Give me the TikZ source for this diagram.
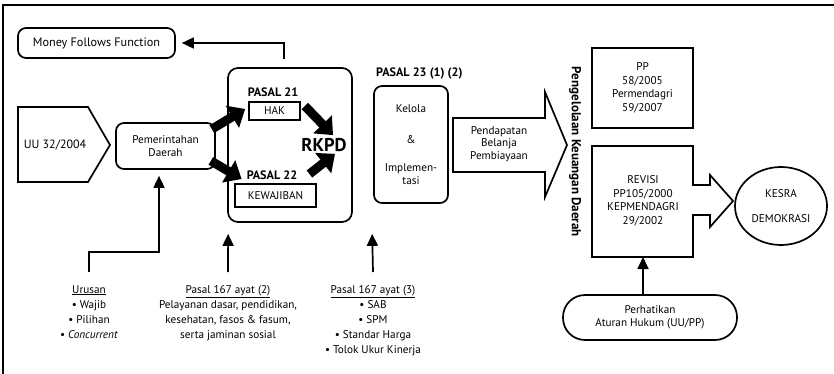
\documentclass[tikz,border=0pt]{standalone}
\usepackage{fontspec}
\setmainfont{PT Sans}
\usetikzlibrary{arrows.meta,calc,shapes.geometric}
\begin{document}
\begin{tikzpicture}[x=1pt,y=-1pt,
  lw/.style={line width=1.7pt},
  box/.style={draw,lw,align=center,inner sep=0pt,font=\fontsize{11.2}{13.5}\selectfont},
  rbox/.style={box,rounded corners=8pt},
  shp/.style={draw,lw,line join=miter},
  conn/.style={lw,-{Triangle[length=12pt,width=11pt]}},
  fat/.style={line width=9pt,-{Triangle[length=15pt,width=25pt]}},
  lbl/.style={align=center,inner sep=0pt,font=\fontsize{11.2}{13.5}\selectfont},
  blbl/.style={align=center,inner sep=0pt,font=\bfseries\fontsize{12.2}{14}\selectfont},
  btxt/.style={align=center,inner sep=0pt,font=\fontsize{11.2}{15}\selectfont}]
\useasboundingbox (0,0) rectangle (834,374);
% frame
\draw[lw] (3,374) -- (3,5) -- (834,5);

% left part
\node[rbox, minimum width=157, minimum height=30, font=\fontsize{12.2}{14}\selectfont] (money) at (96.5,43) {Money Follows Function};
\draw[shp] (18,107) -- (88,107) -- (110,145) -- (88,182) -- (18,182) -- cycle;
\node[lbl, font=\fontsize{12}{14}\selectfont] (uu) at (55,145) {UU 32/2004};
\node[rbox, minimum width=99, minimum height=46] (pem) at (165.5,146) {Pemerintahan\\Daerah};

% pasal box
\node[rbox, rounded corners=10pt, minimum width=124, minimum height=154] (pasal) at (290,145) {};
\node[blbl] (p21) at (273,92) {PASAL 21};
\node[box, minimum width=51, minimum height=18] (hak) at (274.5,111) {HAK};
\node[blbl] (p22) at (272,175) {PASAL 22};
\node[box, minimum width=81, minimum height=23] (kew) at (275.5,195.5) {KEWAJIBAN};
\node[inner sep=0pt, font=\bfseries\fontsize{18.5}{20}\selectfont] (rkpd) at (324,145) {RKPD};

\draw[fat] ($(pem.north east)+(-4,7)$) -- ($(hak.west)+(-3,-2)$);
\draw[fat] ($(pem.south east)+(-5,-9)$) -- ($(p22.west)+(-5,4)$);
\draw[fat] ($(hak.east)+(4,-5)$) -- ($(rkpd.north)+(9,-3)$);
\draw[fat] ($(p22.east)+(12,-1)$) -- ($(rkpd.south)+(11,2)$);

\draw[conn, shorten >=6pt] ($(pasal.north)+(-6,-8)$) |- (money.east);

% pasal 23
\node[blbl, anchor=west] (p23) at (376,73) {PASAL 23 (1) (2)};
\node[rbox, minimum width=74, minimum height=117] (kel) at (411,144.5) {Kelola\\[18pt]\&\\[14pt]Implemen-\\tasi};

% big arrow
\draw[shp] (453,118) -- (545,118) -- (545,92) -- (567,145) -- (545,197) -- (545,172) -- (453,172) -- cycle;
\node[lbl, font=\fontsize{11.2}{12.5}\selectfont] (pbp) at (499,144) {Pendapatan\\Belanja\\Pembiayaan};

% vertical title
\node[rotate=-90, inner sep=0pt, font=\bfseries\fontsize{13}{15}\selectfont] (pkd) at (575,152) {Pengelolaan Keuangan Daerah};

% right boxes
\node[box, minimum width=101, minimum height=80] (pp) at (642.5,88) {PP\\58/2005\\Permendagri\\59/2007};
\draw[shp] (592,146) -- (693,146) -- (693,185) -- (710,185) -- (710,175) -- (733,201) -- (710,227) -- (710,215) -- (693,215) -- (693,257) -- (592,257) -- cycle;
\node[lbl] (rev) at (643,201) {REVISI\\PP105/2000\\KEPMENDAGRI\\29/2002};
\coordinate (revb) at (643,257);
\node[ellipse, draw, lw, minimum width=92, minimum height=78, inner sep=0pt, align=center, font=\fontsize{11.2}{13.5}\selectfont] (kesra) at (781,206) {KESRA\\[12pt]DEMOKRASI};
\node[draw, lw, rounded corners=22pt, minimum width=174, minimum height=45, align=center, inner sep=0pt, font=\fontsize{11.2}{13.5}\selectfont] (perh) at (650,317.5) {Perhatikan\\Aturan Hukum (UU/PP)};
\draw[conn] (perh.north -| revb) -- (revb);

% bottom texts
\node[btxt, anchor=north] (urusan) at (89,285) {\underline{Urusan}\\• Wajib\\• Pilihan\\• \textit{Concurrent}};
\node[btxt, anchor=north] (ay2) at (228,285) {\underline{Pasal 167 ayat (2)}\\Pelayanan dasar, pendidikan,\\kesehatan, fasos \& fasum,\\serta jaminan sosial};
\node[btxt, anchor=north] (ay3) at (373,285) {\underline{Pasal 167 ayat (3)}\\• SAB\\• SPM\\• Standar Harga\\• Tolok Ukur Kinerja};

\coordinate (t2) at ($(pasal.south west)+(1,11)$);
\coordinate (t3) at ($(kel.south west)+(-1,30)$);
\draw[conn, shorten >=6pt] ($(urusan.north)+(0,-13)$) -- ++(0,-20) -| ($(pem.south)+(-6.5,0)$);
\draw[conn] (ay2.north |- 0,272) -- (t2);
\draw[conn] (ay3.north |- 0,272) -- (t3);
\end{tikzpicture}
\end{document}
